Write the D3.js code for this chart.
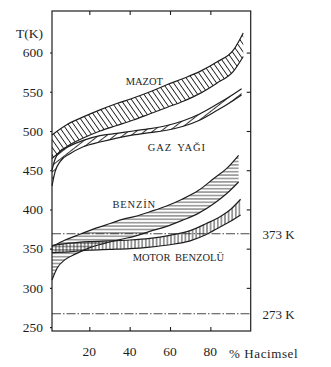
<!DOCTYPE html>
<html><head><meta charset="utf-8">
<script src="https://cdn.jsdelivr.net/npm/d3@7"></script>
<style>
html,body{margin:0;padding:0;background:#fff;}
svg{display:block;}
svg text{font-family:"Liberation Serif","DejaVu Serif","Times New Roman",serif !important;fill:#1e1e1e;}
</style></head>
<body><svg id="c" width="331" height="367"></svg>
<script>
// ---- data (x: % Hacimsel, T: K) ----
const yTicks = [250, 300, 350, 400, 450, 500, 550, 600];
const xTicks = [20, 40, 60, 80];

const mazotX = [1.5, 8.8, 17, 25.3, 33.6, 41.8, 50.1, 58.4, 66.6, 74.9, 83.2, 91.4, 96.3];
const mazotUpper = [495, 508, 518, 527, 535, 542, 550, 559, 567, 576, 588, 603, 625];
const mazotLower = [465, 480, 491, 500, 507, 514, 522, 530, 538, 548, 561, 576, 595];

const gazX = [1.5, 3, 5.5, 10.4, 17, 25.3, 33.6, 41.8, 50.1, 58.4, 66.6, 74.9, 83.2, 91.4, 95.5];
const gazUpper = [450, 464, 474, 481, 488, 494, 497, 500, 503, 507, 513, 522, 534, 547, 554];
const gazLower = [430, 448, 461, 471, 480, 486, 491, 495, 498, 501, 506, 514, 526, 539, 546];

const benzinX = [1.5, 4, 8, 13, 20, 28, 36, 44, 50, 58, 66, 74, 82, 88, 94];
const benzinUpper = [353, 356, 361, 366, 373, 380, 387, 392, 397, 404, 413, 424, 440, 452, 469];
const benzinLower = [310, 325, 336, 343, 351, 357, 362, 367, 372, 378, 386, 395, 408, 420, 435];

const motorX = [1.5, 10, 20, 30, 40, 50, 60, 70, 78, 85, 90, 95];
const motorUpper = [354, 357, 359, 360, 361, 363, 367, 373, 382, 391, 400, 413];
const motorLower = [345, 346, 348, 349, 350, 352, 355, 360, 368, 378, 385, 393];

const refValues = [369, 267];
const refLabels = ["373 K", "273 K"];

const bandNames = ["MAZOT", "GAZ YAĞI", "BENZİN", "MOTOR BENZOLÜ"];
// label anchor positions in data units
const bandLabelX = [38, 49, 31.5, 41.5];
const bandLabelT = [559, 475, 402, 334];

// ---- layout ----
const serif = '"Liberation Serif", "DejaVu Serif", serif';
const svg = d3.select("#c");
const x = d3.scaleLinear().domain([1.5, 100]).range([52, 250.7]);
const y = d3.scaleLinear().domain([245, 653]).range([331, 11]);
const ink = "#1e1e1e";

// hatch patterns
const defs = svg.append("defs");
function hatch(id, spacing, angle, sw) {
  const p = defs.append("pattern").attr("id", id)
    .attr("patternUnits", "userSpaceOnUse")
    .attr("width", 20).attr("height", spacing)
    .attr("patternTransform", `rotate(${angle})`);
  p.append("line").attr("x1", 0).attr("x2", 20)
    .attr("y1", spacing / 2).attr("y2", spacing / 2)
    .attr("stroke", ink).attr("stroke-width", sw);
}
hatch("hMazot", 4.4, 55, 0.9);
hatch("hGaz", 5, -38, 0.9);
hatch("hBenzin", 3.4, 0, 0.8);
hatch("hMotor", 3.6, 90, 0.9);

const bands = [
  {xs: mazotX, up: mazotUpper, lo: mazotLower, fill: "url(#hMazot)"},
  {xs: gazX, up: gazUpper, lo: gazLower, fill: "url(#hGaz)"},
  {xs: benzinX, up: benzinUpper, lo: benzinLower, fill: "url(#hBenzin)"},
  {xs: motorX, up: motorUpper, lo: motorLower, fill: "url(#hMotor)"}
];

const curve = d3.curveMonotoneX;
const area = d3.area().x(d => x(d.x)).y0(d => y(d.lo)).y1(d => y(d.up)).curve(curve);
const lineUp = d3.line().x(d => x(d.x)).y(d => y(d.up)).curve(curve);
const lineLo = d3.line().x(d => x(d.x)).y(d => y(d.lo)).curve(curve);

// reference lines
svg.selectAll(".ref").data(refValues).enter().append("line")
  .attr("x1", x(1.5)).attr("x2", x(100))
  .attr("y1", d => y(d)).attr("y2", d => y(d))
  .attr("stroke", "#333").attr("stroke-width", 0.9)
  .attr("stroke-dasharray", "9,2,1.5,2");

bands.forEach(b => {
  const pts = b.xs.map((v, i) => ({x: v, up: b.up[i], lo: b.lo[i]}));
  svg.append("path").attr("d", area(pts)).attr("fill", b.fill).attr("stroke", "none");
  svg.append("path").attr("d", lineUp(pts)).attr("fill", "none").attr("stroke", ink).attr("stroke-width", 1.2);
  svg.append("path").attr("d", lineLo(pts)).attr("fill", "none").attr("stroke", ink).attr("stroke-width", 1.2);
});

// frame
svg.append("rect").attr("x", x(1.5)).attr("y", y(653))
  .attr("width", x(100) - x(1.5)).attr("height", y(245) - y(653))
  .attr("fill", "none").attr("stroke", ink).attr("stroke-width", 1.2);

// axes
const gl = svg.append("g").attr("transform", `translate(${x(1.5)},0)`)
  .call(d3.axisLeft(y).tickValues(yTicks).tickSize(2).tickPadding(7).tickFormat(d3.format("d")));
const gr = svg.append("g").attr("transform", `translate(${x(100)},0)`)
  .call(d3.axisLeft(y).tickValues(yTicks.filter(v => v > 250)).tickSize(4).tickFormat(""));
const gb = svg.append("g").attr("transform", `translate(0,${y(245)})`)
  .call(d3.axisTop(x).tickValues(xTicks).tickSize(4).tickFormat(""));
const gt = svg.append("g").attr("transform", `translate(0,${y(653)})`)
  .call(d3.axisBottom(x).tickValues(xTicks).tickSize(4).tickFormat(""));
[gl, gr, gb, gt].forEach(g => {
  g.attr("font-family", serif);
  g.select(".domain").remove();
  g.selectAll(".tick line").attr("stroke", ink).attr("stroke-width", 1.1);
});
gl.selectAll(".tick text").attr("font-size", 13.5).attr("fill", ink)
  .attr("font-family", serif);

// x tick labels
svg.selectAll(".xl").data(xTicks).enter().append("text")
  .attr("font-family", serif)
  .attr("x", d => x(d)).attr("y", 355.5).attr("text-anchor", "middle")
  .attr("font-size", 13.5).text(d => d);

svg.append("text").attr("font-family", serif).attr("x", 229).attr("y", 357.5).attr("font-size", 13)
  .attr("letter-spacing", 0.6).text("% Hacimsel");
svg.append("text").attr("font-family", serif).attr("x", 16).attr("y", 37.5).attr("font-size", 13.5).text("T(K)");

// reference labels
svg.selectAll(".rl").data(refValues).enter().append("text")
  .attr("font-family", serif)
  .attr("x", 262.5).attr("y", d => y(d) + 5).attr("font-size", 13)
  .text((d, i) => refLabels[i]);

// band labels
svg.selectAll(".bl").data(bandNames).enter().append("text")
  .attr("font-family", serif)
  .attr("x", (d, i) => x(bandLabelX[i])).attr("y", (d, i) => y(bandLabelT[i]))
  .attr("font-size", 10.5).attr("letter-spacing", (d, i) => [0, 0.9, 0.8, 0][i])
  .attr("word-spacing", 2)
  .text(d => d);
</script></body></html>
